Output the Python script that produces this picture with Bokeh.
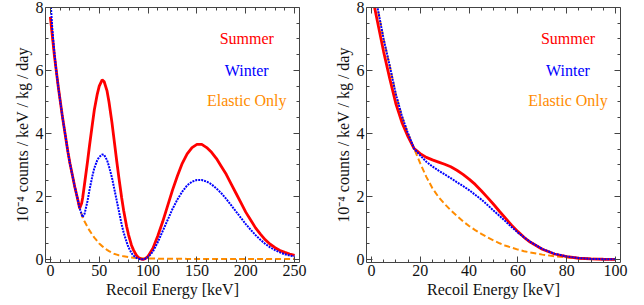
from bokeh.plotting import figure
from bokeh.models import LinearAxis, FixedTicker, Range1d, CustomLabelingPolicy, ColumnDataSource
from bokeh.layouts import row
from bokeh.embed import file_html
from bokeh.resources import INLINE
from bokeh.core.properties import value

# ---------------- data ----------------
left_energy = [0, 2, 4, 6, 8, 10, 12, 15, 18, 20,
               22, 25, 28, 30, 32, 33, 35, 38, 40, 43,
               45, 48, 50, 53, 55, 58, 60, 63, 65, 68,
               70, 73, 75, 78, 80, 83, 85, 88, 90, 93,
               95, 97, 100,
               105, 110, 115, 120, 125, 130, 135, 140, 145, 150,
               155, 160, 165, 170, 175, 180, 185, 190, 195, 200,
               205, 210, 215, 220, 225, 230, 235, 240, 245, 250]
left_summer = [7.7, 7.1, 6.5, 6.0, 5.5, 5.05, 4.6, 4.0, 3.4, 3.05,
               2.75, 2.3, 1.9, 1.62, 1.78, 1.95, 2.4, 3.1, 3.6, 4.3,
               4.75, 5.25, 5.5, 5.7, 5.65, 5.35, 5.0, 4.35, 3.85, 3.1,
               2.62, 1.95, 1.55, 1.05, 0.78, 0.45, 0.3, 0.13, 0.06, 0.01,
               0.0, 0.02, 0.1,
               0.35, 0.75, 1.2, 1.7, 2.2, 2.65, 3.05, 3.35, 3.55, 3.65,
               3.65, 3.55, 3.4, 3.2, 2.95, 2.7, 2.4, 2.1, 1.8, 1.5,
               1.25, 1.0, 0.8, 0.62, 0.48, 0.37, 0.28, 0.22, 0.17, 0.13]
left_winter = [8.3, 7.3, 6.6, 6.0, 5.5, 5.05, 4.6, 4.0, 3.4, 3.05,
               2.75, 2.3, 1.9, 1.62, 1.43, 1.34, 1.45, 1.85, 2.2, 2.65,
               2.9, 3.15, 3.25, 3.33, 3.32, 3.15, 2.95, 2.6, 2.3, 1.85,
               1.55, 1.1, 0.85, 0.55, 0.38, 0.2, 0.12, 0.05, 0.02, 0.0,
               0.0, 0.02, 0.07,
               0.25, 0.55, 0.9, 1.25, 1.6, 1.9, 2.15, 2.35, 2.47, 2.52,
               2.52, 2.47, 2.38, 2.25, 2.1, 1.92, 1.72, 1.52, 1.32, 1.12,
               0.94, 0.77, 0.62, 0.49, 0.38, 0.29, 0.22, 0.16, 0.12, 0.09]
left_elastic = [7.7, 7.1, 6.5, 6.0, 5.5, 5.05, 4.6, 4.0, 3.4, 3.05,
                2.75, 2.3, 1.9, 1.62, 1.43, 1.33, 1.2, 1.03, 0.92, 0.78,
                0.69, 0.58, 0.5, 0.42, 0.37, 0.3, 0.26, 0.21, 0.18, 0.15,
                0.13, 0.11, 0.095, 0.08, 0.07, 0.06, 0.05, 0.045, 0.04, 0.035,
                0.032, 0.03, 0.027,
                0.024, 0.022, 0.02, 0.019, 0.018, 0.017, 0.016, 0.015, 0.014, 0.014,
                0.013, 0.013, 0.012, 0.012, 0.011, 0.011, 0.011, 0.01, 0.01, 0.01,
                0.01, 0.009, 0.009, 0.009, 0.009, 0.008, 0.008, 0.008, 0.008, 0.008]

right_energy = [0, 2.5, 5, 7.5, 10, 12.5, 15, 17.5, 20, 22.5,
                25, 27.5, 30, 32.5, 35, 37.5, 40, 42.5, 45, 47.5,
                50, 52.5, 55, 57.5, 60, 62.5, 65, 70, 75, 80,
                85, 90, 95, 100]
right_summer = [8.5, 7.55, 6.6, 5.75, 4.95, 4.35, 3.9, 3.52, 3.36, 3.24,
                3.16, 3.09, 3.02, 2.94, 2.83, 2.7, 2.55, 2.38, 2.18, 1.97,
                1.75, 1.52, 1.3, 1.08, 0.88, 0.7, 0.55, 0.32, 0.17, 0.085,
                0.035, 0.012, 0.004, 0.0]
right_winter = [9.0, 8.0, 7.0, 6.15, 5.25, 4.55, 4.0, 3.52, 3.3, 3.1,
                2.95, 2.82, 2.7, 2.58, 2.45, 2.33, 2.2, 2.05, 1.9, 1.73,
                1.55, 1.38, 1.2, 1.02, 0.85, 0.7, 0.56, 0.33, 0.18, 0.09,
                0.04, 0.015, 0.005, 0.0]
right_elastic = [9.0, 8.0, 7.0, 6.15, 5.25, 4.55, 4.0, 3.52, 3.05, 2.62,
                 2.26, 1.98, 1.76, 1.56, 1.38, 1.21, 1.06, 0.93, 0.81, 0.7,
                 0.6, 0.51, 0.43, 0.37, 0.31, 0.26, 0.22, 0.15, 0.1, 0.06,
                 0.035, 0.018, 0.008, 0.003]

series_names = ["Summer", "Winter", "Elastic Only"]
y_ticks = [0, 2, 4, 6, 8]
left_x_ticks = [0, 50, 100, 150, 200, 250]
right_x_ticks = [0, 20, 40, 60, 80, 100]

# ---------------- style ----------------
FONT = "Liberation Serif"
RED = "#ff0000"
BLUE = "#0000ff"
ORANGE = "#ff8c00"
AXIS = "#444444"
FS = "16px"

NO_LABELS = CustomLabelingPolicy(
    code="for (const i of Array.from(indices)) { indices.unset(i) }\nreturn indices")


def minor_between(ticks, n):
    out = []
    for a, b in zip(ticks[:-1], ticks[1:]):
        step = (b - a) / n
        out += [a + step * k for k in range(1, n)]
    return out


def style_axis(ax, labels=True):
    ax.axis_line_color = AXIS
    ax.major_tick_line_color = AXIS
    ax.minor_tick_line_color = AXIS
    ax.major_tick_in = 6
    ax.major_tick_out = 0
    ax.minor_tick_in = 3
    ax.minor_tick_out = 0
    ax.major_label_text_font = FONT
    ax.major_label_text_color = "#111111"
    ax.major_label_text_font_size = FS
    ax.axis_label_text_font = FONT
    ax.axis_label_text_font_style = "normal"
    ax.axis_label_text_font_size = FS
    ax.axis_label_text_color = "#111111"
    if not labels:
        ax.major_label_policy = NO_LABELS
        ax.major_label_text_font_size = "1px"
        ax.major_label_standoff = 0


def panel(xs, summer, winter, elastic, xr, xticks, xminor_n, legend_x,
          border_left, border_right):
    p = figure(frame_width=254, frame_height=255,
               x_range=Range1d(*xr), y_range=Range1d(-0.1, 8),
               output_backend="svg", toolbar_location=None,
               min_border_left=border_left, min_border_right=border_right,
               min_border_top=7, min_border_bottom=40)
    p.grid.visible = False
    p.outline_line_color = None
    p.background_fill_color = "white"
    p.border_fill_color = "white"

    xt = FixedTicker(ticks=xticks, minor_ticks=minor_between(xticks, xminor_n))
    yt = FixedTicker(ticks=y_ticks, minor_ticks=minor_between(y_ticks, 4))

    p.xaxis.ticker = xt
    p.yaxis.ticker = yt
    for ax in p.xaxis:
        style_axis(ax)
        ax.axis_label = "Recoil Energy [keV]"
        ax.major_label_standoff = 2
        ax.axis_label_standoff = 2
    for ax in p.yaxis:
        style_axis(ax)
        ax.axis_label = "10\u207b\u2074 counts / keV / kg / day"
        ax.major_label_standoff = 2
        ax.axis_label_standoff = 2

    top = LinearAxis(ticker=xt)
    style_axis(top, labels=False)
    p.add_layout(top, "above")
    right = LinearAxis(ticker=yt)
    style_axis(right, labels=False)
    p.add_layout(right, "right")

    p.line(xs, elastic, line_color=ORANGE, line_width=2, line_dash="6 3")
    p.line(xs, summer, line_color=RED, line_width=2.8)
    p.line(xs, winter, line_color=BLUE, line_width=2, line_dash="2 1")

    src = ColumnDataSource(dict(x=[legend_x] * 3, y=[7.0, 6.0, 5.05],
                                t=series_names, c=[RED, BLUE, ORANGE]))
    p.text(x="x", y="y", text="t", text_color="c", text_font=value(FONT),
           text_font_size=FS, text_align="center", text_baseline="middle",
           source=src)
    return p


p1 = panel(left_energy, left_summer, left_winter, left_elastic,
           (-5, 255), left_x_ticks, 5, 201, 45, 22)
p2 = panel(right_energy, right_summer, right_winter, right_elastic,
           (-2, 102), right_x_ticks, 4, 80.5, 45, 14)

layout = row(p1, p2)
open("out.html", "w").write(file_html(layout, INLINE))
